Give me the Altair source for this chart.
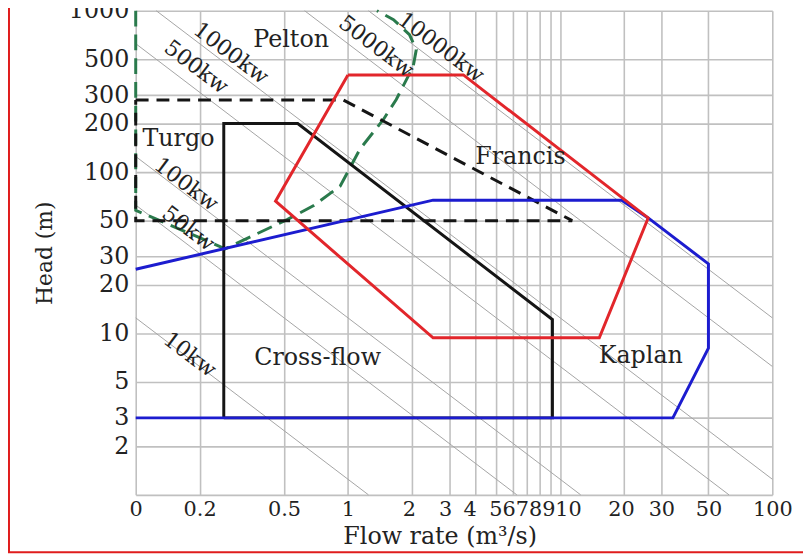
import altair as alt
import pandas as pd

# ---------------- data ----------------
x_ticks = [0.1, 0.2, 0.5, 1, 2, 3, 4, 5, 6, 7, 8, 9, 10, 20, 30, 50, 100]
y_ticks = [1, 2, 3, 5, 10, 20, 30, 50, 100, 200, 300, 500, 1000]
# small horizontal nudges of crowded x labels (as printed in the source)
x_label_nudge = {2: -3, 3: -4, 4: -6, 5: -1, 6: -4.5, 7: -5.5, 8: -4.5, 9: -2, 10: 8, 20: -3}

# iso-power lines (kW); P = K * Q * H
power_kw = [10, 50, 100, 500, 1000, 5000, 10000]
power_text = ["10kw", "50kw", "100kw", "500kw", "1000kw", "5000kw", "10000kw"]
power_text_q = [0.18, 0.177, 0.173, 0.193, 0.281, 1.36, 2.75]
power_text_h = [7.4, 44.7, 84, 447, 545, 601, 593]
K = 8.0  # 9.81 * efficiency (~0.82)

pelton_q = [0.1, 0.1, 0.264, 0.52, 0.69, 0.92, 1.14, 1.47, 1.69, 2.03, 2.1, 1.95, 1.64, 1.37]
pelton_h = [1000, 58, 33.5, 51, 62, 82, 139, 212, 282, 451, 574, 711, 880, 1000]

turgo_q = [0.1, 0.95, 11.4, 0.1, 0.1]
turgo_h = [280, 280, 50, 50, 280]

crossflow_q = [0.26, 0.26, 0.58, 9.2, 9.2, 0.26]
crossflow_h = [3, 200, 200, 12.2, 3, 3]

francis_q = [1.0, 3.5, 26, 15.3, 2.52, 0.456, 1.0]
francis_h = [400, 400, 52, 9.4, 9.4, 66, 400]

kaplan_q = [0.1, 2.52, 19.5, 26, 50, 50, 34, 0.1]
kaplan_h = [25, 67, 67, 52, 27, 8.1, 3, 3]

turbine_names = ["Pelton", "Turgo", "Francis", "Cross-flow", "Kaplan"]
turbine_q = [0.54, 0.159, 6.5, 0.72, 24]
turbine_h = [662, 160, 124, 7.0, 7.2]

# ---------------- tables ----------------
rows = []
for p in power_kw:
    qh = p / K
    q1 = max(0.1, qh / 1000.0)
    q2 = min(100.0, qh / 1.0)
    rows.append({"p": p, "i": 0, "q": q1, "h": qh / q1})
    rows.append({"p": p, "i": 1, "q": q2, "h": qh / q2})
power_df = pd.DataFrame(rows)


def path(qs, hs):
    return pd.DataFrame({"q": qs, "h": hs, "i": list(range(len(qs)))})


FONT = "DejaVu Serif"
TXT = "#222222"

xs = alt.Scale(type="log", domain=[0.1, 100], nice=False)
ys = alt.Scale(type="log", domain=[1, 1000], nice=False)

x_offset = {
    "condition": [
        {"test": f"abs(datum.value - {v}) < 0.001", "value": d}
        for v, d in x_label_nudge.items()
    ],
    "value": 0,
}

x_axis = alt.Axis(
    values=x_ticks,
    labelExpr="datum.value < 0.15 ? '0' : format(datum.value, '~g')",
    labelFont=FONT, labelFontSize=21, labelColor=TXT,
    labelPadding=4, labelOverlap=False, labelFlush=False,
    labelOffset=x_offset,
    ticks=False, tickSize=0, domain=False,
    grid=True, gridColor="#c0c0c0", gridWidth=1.6,
    title="Flow rate (m³/s)", titleFont=FONT, titleFontSize=24,
    titleFontWeight="normal", titleColor=TXT, titlePadding=5, titleX=307,
)
y_axis = alt.Axis(
    values=y_ticks,
    labelExpr="datum.value < 1.5 ? '' : format(datum.value, '~g')",
    labelFont=FONT, labelFontSize=24, labelColor=TXT,
    labelPadding=7, labelOverlap=False, labelFlush=False,
    ticks=False, tickSize=0, domain=False,
    grid=True, gridColor="#c0c0c0", gridWidth=1.6,
    title="Head (m)", titleFont=FONT, titleFontSize=22,
    titleFontWeight="normal", titleColor=TXT, titlePadding=12,
)

X = alt.X("q:Q", scale=xs, axis=x_axis)
Y = alt.Y("h:Q", scale=ys, axis=y_axis)

power_lines = alt.Chart(power_df).mark_line(color="#a4a4a4", strokeWidth=1).encode(
    x=X, y=Y, detail="p:N", order="i:Q"
)


def envelope(qs, hs, color, dash=None, width=3):
    kw = dict(color=color, strokeWidth=width, strokeJoin="miter")
    if dash:
        kw["strokeDash"] = dash
    return alt.Chart(path(qs, hs)).mark_line(**kw).encode(x=X, y=Y, order="i:Q")


pelton = envelope(pelton_q, pelton_h, "#2a7a4c", dash=[16, 8])
kaplan = envelope(kaplan_q, kaplan_h, "#1c1ccf")
francis = envelope(francis_q, francis_h, "#e2262b")
crossflow = envelope(crossflow_q, crossflow_h, "#151515")
turgo = envelope(turgo_q, turgo_h, "#151515", dash=[13, 8])

turbine_df = pd.DataFrame({"q": turbine_q, "h": turbine_h, "t": turbine_names})
turbine_text = alt.Chart(turbine_df).mark_text(
    font=FONT, fontSize=24, color=TXT, align="center", baseline="middle"
).encode(x=X, y=Y, text="t:N")

ptext_df = pd.DataFrame({"q": power_text_q, "h": power_text_h, "t": power_text})
power_text_layer = alt.Chart(ptext_df).mark_text(
    font=FONT, fontSize=22, color=TXT, align="center", baseline="middle", angle=37
).encode(x=X, y=Y, text="t:N")

frame = alt.Chart(pd.DataFrame({"a": [0]})).mark_rect(
    fill="transparent", stroke="#e01c1c", strokeWidth=2
).encode(
    x=alt.value(-128), x2=alt.value(700), y=alt.value(-20), y2=alt.value(547)
)

chart = alt.layer(
    power_lines, pelton, turgo, crossflow, kaplan, francis,
    turbine_text, power_text_layer, frame
).properties(
    width=643, height=489,
    autosize=alt.AutoSizeParams(type="none"),
    padding={"left": 129, "top": 0, "right": 31, "bottom": 59},
    background="white",
).configure_view(strokeWidth=0)

chart.save("out.html", embed_options={"renderer": "svg", "actions": False})
